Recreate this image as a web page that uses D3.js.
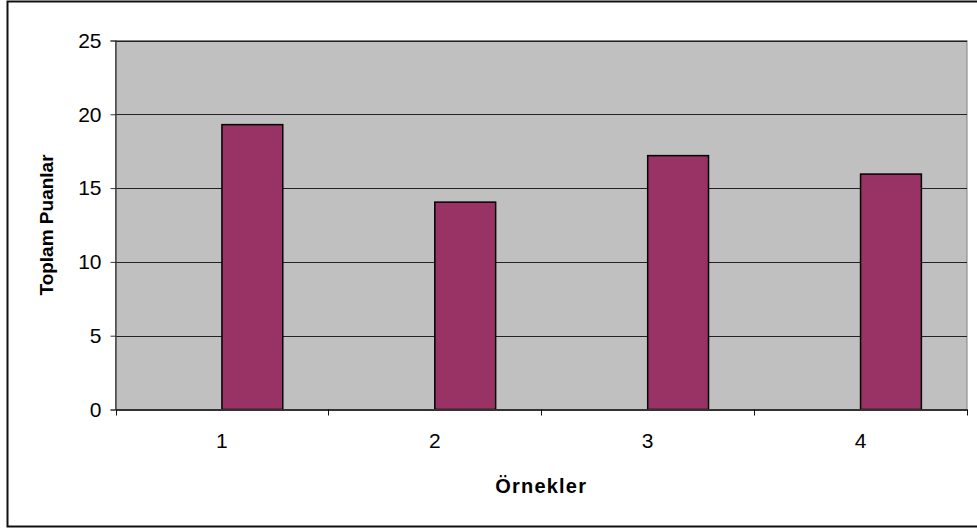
<!DOCTYPE html>
<html>
<head>
<meta charset="utf-8">
<script src="https://cdn.jsdelivr.net/npm/d3@7"></script>
<style>
  html, body { margin: 0; padding: 0; background: #fff; }
  svg { display: block; font-family: "Liberation Sans", Arial, sans-serif; }
</style>
</head>
<body>
<svg id="chart" width="977" height="530"></svg>
<script>
// Sample categories and their total scores
const categories = ["1", "2", "3", "4"];
const scores = [19.3, 14.05, 17.2, 15.95];
const yTicks = [0, 5, 10, 15, 20, 25];
const xTitle = "Örnekler";
const yTitle = "Toplam Puanlar";

const svg = d3.select("#chart");
const plot = { left: 115.5, top: 40.5, right: 967, bottom: 409.5 };

// Outer chart frame
svg.append("rect")
  .attr("x", 7.5).attr("y", 1.5)
  .attr("width", 975).attr("height", 525)
  .attr("fill", "#fff").attr("stroke", "#111").attr("stroke-width", 2);

const x = d3.scaleBand()
  .domain(categories)
  .range([plot.left, plot.right])
  .paddingInner(0).paddingOuter(0);

const y = d3.scaleLinear()
  .domain([0, 25])
  .range([plot.bottom, plot.top]);

// Plot area background
svg.append("rect")
  .attr("x", plot.left).attr("y", plot.top)
  .attr("width", plot.right - plot.left).attr("height", plot.bottom - plot.top)
  .attr("fill", "#c0c0c0")
  .attr("stroke", "#808080").attr("stroke-width", 1);

// Horizontal gridlines
svg.append("g")
  .selectAll("line")
  .data(yTicks.filter(t => t > 0))
  .join("line")
  .attr("x1", plot.left).attr("x2", plot.right)
  .attr("y1", d => Math.round(y(d)) + 0.5).attr("y2", d => Math.round(y(d)) + 0.5)
  .attr("stroke", "#222").attr("stroke-width", 1);

// Bars: each category slot holds two bar widths plus a 150% gap; the score bar sits in the second position
const gapRatio = 1.5;
const barW = x.bandwidth() / (2 + gapRatio);
svg.append("g")
  .selectAll("rect")
  .data(scores)
  .join("rect")
  .attr("x", (d, i) => x(categories[i]) + barW * gapRatio / 2 + barW)
  .attr("y", d => y(d))
  .attr("width", barW)
  .attr("height", d => y(0) - y(d))
  .attr("fill", "#993366")
  .attr("stroke", "#000").attr("stroke-width", 1.5);

// Y axis
const yAxis = d3.axisLeft(y)
  .tickValues(yTicks)
  .tickSize(5)
  .tickPadding(9)
  .tickFormat(d3.format("d"));
const gy = svg.append("g")
  .attr("transform", `translate(${plot.left},0)`)
  .call(yAxis)
  .attr("font-size", 21)
  .attr("font-family", "Liberation Sans, Arial, sans-serif");
gy.select(".domain").attr("stroke", "#333").attr("stroke-width", 1.2);
gy.selectAll(".tick line").attr("stroke", "#333");
gy.selectAll(".tick text").attr("fill", "#000");

// X axis: category labels centred in each slot, ticks on the slot boundaries
const xAxis = d3.axisBottom(x).tickSize(0).tickPadding(24);
const gx = svg.append("g")
  .attr("transform", `translate(0,${plot.bottom})`)
  .call(xAxis)
  .attr("font-size", 21)
  .attr("font-family", "Liberation Sans, Arial, sans-serif");
gx.select(".domain").attr("stroke", "#333").attr("stroke-width", 2);
gx.selectAll(".tick text").attr("fill", "#000");

const bounds = categories.map(c => x(c)).concat([plot.right]);
svg.append("g")
  .selectAll("line")
  .data(bounds)
  .join("line")
  .attr("x1", d => Math.round(d) + 0.5).attr("x2", d => Math.round(d) + 0.5)
  .attr("y1", plot.bottom).attr("y2", plot.bottom + 6)
  .attr("stroke", "#111").attr("stroke-width", 1);

// Axis titles
svg.append("text")
  .attr("x", (plot.left + plot.right) / 2)
  .attr("y", 493)
  .attr("text-anchor", "middle")
  .attr("font-size", 20).attr("font-weight", "bold")
  .attr("letter-spacing", 1.2)
  .text(xTitle);

svg.append("text")
  .attr("transform", `translate(53,${(plot.top + plot.bottom) / 2}) rotate(-90)`)
  .attr("text-anchor", "middle")
  .attr("font-size", 19).attr("font-weight", "bold")
  .text(yTitle);
</script>
</body>
</html>
